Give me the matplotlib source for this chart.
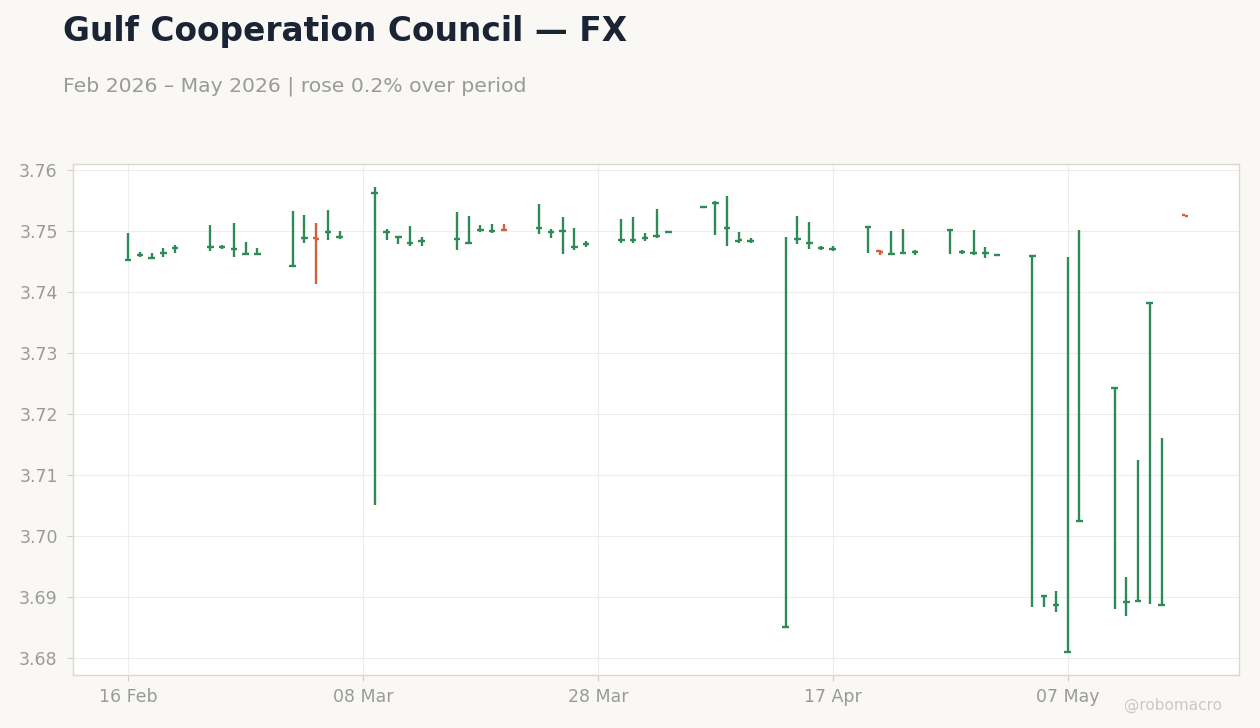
import matplotlib
matplotlib.use("Agg")
import matplotlib.pyplot as plt
import matplotlib.dates as mdates
import pandas as pd
import numpy as np

# trading days shown on the chart
dates = list(pd.bdate_range("2026-02-16", "2026-05-15")) + [pd.Timestamp("2026-05-17")]

opens = [3.7452, 3.7461, 3.7456, 3.7464, 3.7473,
         3.7474, 3.7474, 3.7471, 3.7463, 3.7463,
         3.7443, 3.7489, 3.7488, 3.7499, 3.7490,
         3.7562, 3.7498, 3.7490, 3.7480, 3.7484,
         3.7487, 3.7481, 3.7502, 3.7500, 3.7502,
         3.7505, 3.7499, 3.7500, 3.7474, 3.7478,
         3.7485, 3.7485, 3.7489, 3.7492, 3.7499,
         3.7539, 3.7546, 3.7505, 3.7483, 3.7484,
         3.6851, 3.7487, 3.7481, 3.7473, 3.7471,
         3.7507, 3.7468, 3.7462, 3.7464, 3.7466,
         3.7502, 3.7466, 3.7464, 3.7464, 3.7460,
         3.7459, 3.6902, 3.6887, 3.6810, 3.7025,
         3.7243, 3.6892, 3.6894, 3.7382, 3.6887,
         3.7526]
highs = [3.7497, 3.7466, 3.7464, 3.7472, 3.7477,
         3.7510, 3.7477, 3.7513, 3.7482, 3.7472,
         3.7533, 3.7526, 3.7513, 3.7534, 3.7500,
         3.7573, 3.7503, 3.7492, 3.7508, 3.7490,
         3.7531, 3.7525, 3.7510, 3.7512, 3.7512,
         3.7544, 3.7503, 3.7523, 3.7505, 3.7484,
         3.7520, 3.7523, 3.7497, 3.7536, 3.7499,
         3.7540, 3.7549, 3.7557, 3.7498, 3.7488,
         3.7490, 3.7525, 3.7515, 3.7476, 3.7475,
         3.7509, 3.7469, 3.7500, 3.7503, 3.7469,
         3.7504, 3.7469, 3.7502, 3.7474, 3.7460,
         3.7460, 3.6903, 3.6910, 3.7457, 3.7502,
         3.7244, 3.6933, 3.7125, 3.7382, 3.7161,
         3.7526]
lows = [3.7451, 3.7458, 3.7454, 3.7458, 3.7464,
        3.7468, 3.7470, 3.7458, 3.7461, 3.7461,
        3.7442, 3.7481, 3.7414, 3.7485, 3.7487,
        3.7051, 3.7485, 3.7479, 3.7475, 3.7475,
        3.7469, 3.7479, 3.7499, 3.7497, 3.7500,
        3.7496, 3.7489, 3.7463, 3.7469, 3.7474,
        3.7480, 3.7480, 3.7484, 3.7489, 3.7499,
        3.7538, 3.7494, 3.7476, 3.7481, 3.7480,
        3.6849, 3.7478, 3.7471, 3.7469, 3.7468,
        3.7464, 3.7461, 3.7460, 3.7462, 3.7461,
        3.7463, 3.7463, 3.7461, 3.7456, 3.7460,
        3.6883, 3.6883, 3.6876, 3.6809, 3.7025,
        3.6881, 3.6868, 3.6893, 3.6888, 3.6886,
        3.7525]
closes = [3.7452, 3.7461, 3.7456, 3.7464, 3.7473,
          3.7474, 3.7474, 3.7471, 3.7463, 3.7463,
          3.7443, 3.7489, 3.7487, 3.7499, 3.7490,
          3.7562, 3.7498, 3.7490, 3.7480, 3.7484,
          3.7487, 3.7481, 3.7502, 3.7500, 3.7501,
          3.7505, 3.7499, 3.7500, 3.7474, 3.7478,
          3.7485, 3.7485, 3.7489, 3.7492, 3.7499,
          3.7539, 3.7546, 3.7505, 3.7486, 3.7484,
          3.6851, 3.7487, 3.7481, 3.7473, 3.7471,
          3.7507, 3.7466, 3.7462, 3.7464, 3.7466,
          3.7502, 3.7466, 3.7464, 3.7464, 3.7460,
          3.7459, 3.6902, 3.6887, 3.6810, 3.7025,
          3.7243, 3.6892, 3.6894, 3.7382, 3.6887,
          3.7525]

title = "Gulf Cooperation Council — FX"
subtitle = "Feb 2026 – May 2026 | rose 0.2% over period"
xtick_dates = ["2026-02-16", "2026-03-08", "2026-03-28", "2026-04-17", "2026-05-07"]
ytick_vals = [3.68, 3.69, 3.70, 3.71, 3.72, 3.73, 3.74, 3.75, 3.76]

GREEN = "#2e8b57"
RED = "#d0613f"
BG = "#f9f8f5"
GRID = "#ededed"
TXT = "#9a9a9a"

plt.rcParams["font.family"] = ["DejaVu Sans"]

fig = plt.figure(figsize=(12.6, 7.28), dpi=100, facecolor=BG)
ax = fig.add_axes([73 / 1260, 1 - 675 / 728, (1239 - 73) / 1260, (675 - 164) / 728])
ax.set_facecolor("white")

x = mdates.date2num(dates)
o = np.array(opens); h = np.array(highs); l = np.array(lows); c = np.array(closes)
colors = [GREEN if cc >= oo else RED for oo, cc in zip(o, c)]
half = 0.28  # tick half width in days

ax.vlines(x, l, h, colors=colors, linewidth=1.7, zorder=3)
ax.hlines(o, x - half, x, colors=colors, linewidth=1.7, zorder=3)
ax.hlines(c, x, x + half, colors=colors, linewidth=1.7, zorder=3)

ax.set_xlim(mdates.datestr2num("2026-02-11") + 0.3, mdates.datestr2num("2026-05-21") + 0.6)
ax.set_ylim(3.6772, 3.7610)

ax.set_xticks(mdates.datestr2num(xtick_dates))
ax.xaxis.set_major_formatter(mdates.DateFormatter("%d %b"))
ax.set_yticks(ytick_vals)
ax.yaxis.set_major_formatter(matplotlib.ticker.FormatStrFormatter("%.2f"))

ax.grid(True, color=GRID, linewidth=0.8, zorder=0)
ax.set_axisbelow(True)
for s in ax.spines.values():
    s.set_color("#dcd9d3")
    s.set_linewidth(1.0)
ax.tick_params(axis="both", colors="#cfcfcf", labelcolor=TXT, labelsize=12.5, length=4, width=0.8)
ax.tick_params(axis="y", pad=7)
ax.tick_params(axis="x", pad=5)

fig.text(63 / 1260, 1 - 41 / 728, title, fontsize=23.7, fontweight="bold", color="#1b2434", va="baseline")
fig.text(63 / 1260, 1 - 92 / 728, subtitle, fontsize=14.65, color=TXT, va="baseline")
fig.text(1222 / 1260, 1 - 710 / 728, "@robomacro", fontsize=11, color="#c9c9c9", ha="right", va="baseline")

fig.savefig("out.png", dpi=100, facecolor=BG)
